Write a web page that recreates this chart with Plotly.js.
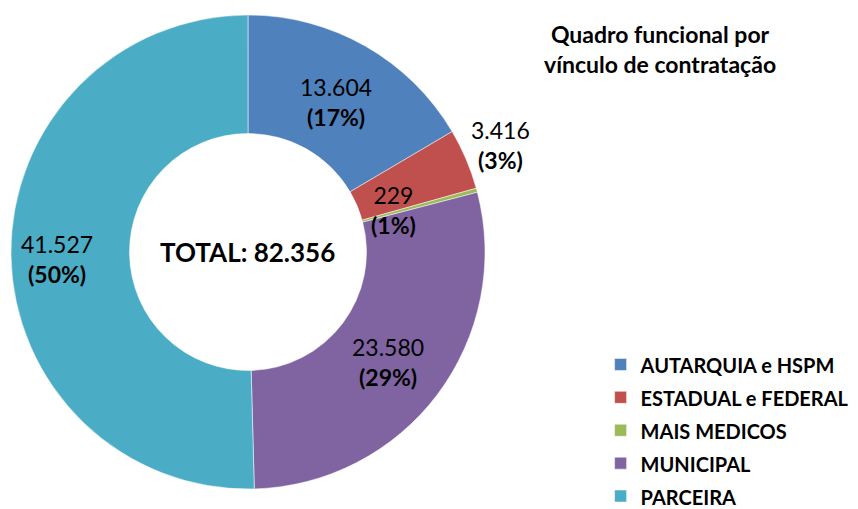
<!DOCTYPE html>
<html>
<head>
<meta charset="utf-8">
<script src="https://cdn.plot.ly/plotly-3.0.1.min.js"></script>
<style>html,body{margin:0;padding:0;background:#fff;}#chart{width:858px;height:509px;}</style>
</head>
<body>
<div id="chart"></div>
<script>
const categories = ['AUTARQUIA e HSPM', 'ESTADUAL e FEDERAL', 'MAIS MEDICOS', 'MUNICIPAL', 'PARCEIRA'];
const values = [13604, 3416, 229, 23580, 41527];
const pctLabels = [17, 3, 1, 29, 50];
const colors = ['#4F81BD', '#C0504D', '#9BBB59', '#8064A2', '#4BACC6'];
const titleText = 'Quadro funcional por<br>vínculo de contratação';

function fmt(n) { return String(n).replace(/\B(?=(\d{3})+(?!\d))/g, '.'); }
const total = values.reduce((a, b) => a + b, 0);

// label anchor positions (paper coords), one per slice
const labelPos = [[0.392, 0.80], [0.583, 0.716], [0.459, 0.587], [0.452, 0.288], [0.067, 0.492]];

const FONT = 'Lato, "Open Sans", sans-serif';
const annotations = values.map((v, i) => ({
  x: labelPos[i][0], y: labelPos[i][1], xref: 'paper', yref: 'paper',
  xanchor: 'center', yanchor: 'middle', showarrow: false,
  text: fmt(v) + '<br><b>(' + pctLabels[i] + '%)</b>',
  font: {family: FONT, size: 23, color: '#000'}
}));
annotations.push({
  x: 248 / 858, y: 1 - 252 / 509, xref: 'paper', yref: 'paper', xanchor: 'center', yanchor: 'middle',
  showarrow: false, text: '<b>TOTAL: ' + fmt(total) + '</b>',
  font: {family: FONT, size: 26, color: '#000'}
});
annotations.push({
  x: 660 / 858, y: 1 - 49 / 509, xref: 'paper', yref: 'paper', xanchor: 'center', yanchor: 'middle',
  showarrow: false, text: '<b>' + titleText + '</b>',
  font: {family: FONT, size: 23, color: '#000'}
});

const legendLabels = categories.map(c => '<span style="font-size:20px"><b>' + c + '</b></span>');

const data = [{
  type: 'pie', labels: legendLabels, values: values, hole: 0.5, sort: false,
  direction: 'clockwise', rotation: 0,
  marker: {colors: colors, line: {color: '#ffffff', width: 0.5}},
  textinfo: 'none', hoverinfo: 'value+percent',
  domain: {x: [11 / 858, 485 / 858], y: [1 - 489 / 509, 1 - 15 / 509]}
}];

const layout = {
  width: 858, height: 509,
  margin: {l: 0, r: 0, t: 0, b: 0, autoexpand: false},
  paper_bgcolor: '#fff', plot_bgcolor: '#fff',
  separators: ',.',
  showlegend: true,
  legend: {x: 0.700, y: 1 - 343 / 509, xanchor: 'left', yanchor: 'top',
           font: {family: FONT, size: 23, color: '#000'}, traceorder: 'normal', itemclick: false},
  annotations: annotations
};

Plotly.newPlot('chart', data, layout, {displayModeBar: false, staticPlot: true});
</script>
</body>
</html>
